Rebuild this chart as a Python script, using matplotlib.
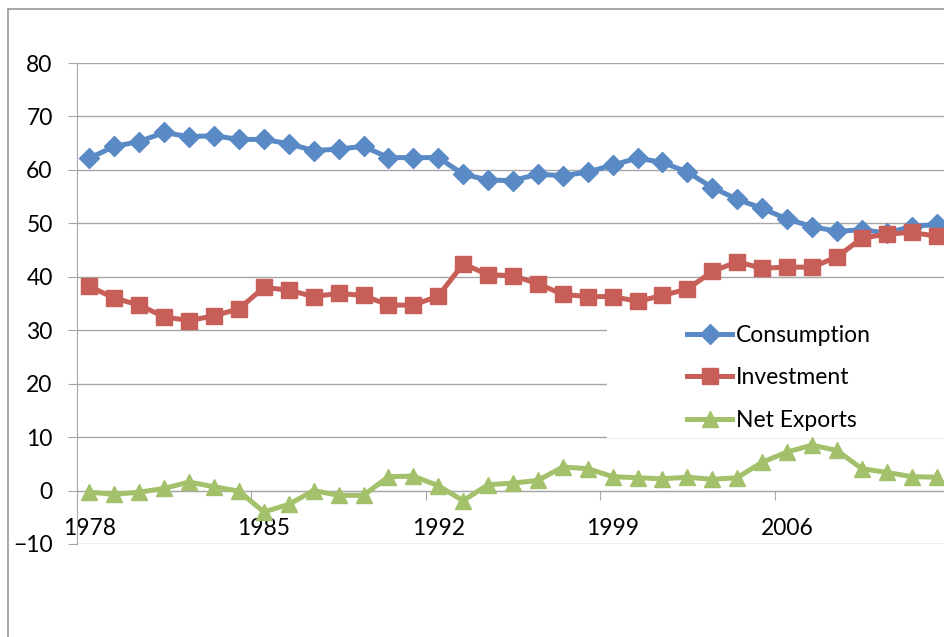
import matplotlib
matplotlib.use("Agg")
import matplotlib.pyplot as plt
from matplotlib.lines import Line2D
from matplotlib.patches import Rectangle

years = list(range(1978, 2013))
consumption = [62.2, 64.4, 65.3, 67.0, 66.2, 66.4, 65.7, 65.7, 64.9, 63.6,
               63.9, 64.4, 62.3, 62.3, 62.3, 59.2, 58.1, 58.0, 59.2, 58.9,
               59.6, 60.9, 62.2, 61.4, 59.6, 56.7, 54.5, 52.8, 50.8, 49.4,
               48.5, 48.8, 48.2, 49.4, 49.8]
investment = [38.2, 36.0, 34.7, 32.5, 31.8, 32.7, 34.0, 38.0, 37.5, 36.3,
              36.9, 36.5, 34.7, 34.7, 36.4, 42.4, 40.4, 40.2, 38.7, 36.7,
              36.3, 36.3, 35.4, 36.5, 37.7, 41.0, 42.8, 41.6, 41.8, 41.8,
              43.7, 47.2, 48.0, 48.3, 47.6]
net_exports = [-0.3, -0.7, -0.3, 0.4, 1.6, 0.7, -0.1, -4.0, -2.6, 0.0,
               -0.9, -0.9, 2.6, 2.7, 0.9, -1.9, 1.1, 1.4, 1.9, 4.4,
               4.1, 2.6, 2.4, 2.2, 2.5, 2.1, 2.4, 5.3, 7.2, 8.5,
               7.5, 4.1, 3.4, 2.6, 2.5]
y_ticks = list(range(-10, 81, 10))
label_every = 7

plt.rcParams["font.family"] = ["Lato", "DejaVu Sans"]
grey = "#a6a6a6"

fig = plt.figure(figsize=(9.45, 6.37), dpi=100)
W, H = 945, 637
ax = fig.add_axes([77 / W, 1 - 544 / H, 872 / W, 481 / H])

x = list(range(len(years)))
ax.plot(x, consumption, color="#5a8ac6", lw=3.6, marker="D", ms=10,
        label="Consumption", zorder=3)
ax.plot(x, investment, color="#c75f58", lw=3.6, marker="s", ms=11,
        label="Investment", zorder=3)
ax.plot(x, net_exports, color="#a3c16a", lw=3.6, marker="^", ms=12,
        label="Net Exports", zorder=3)

ax.set_xlim(-0.5, len(years) - 0.5)
ax.set_ylim(-10, 80)
ax.set_yticks(y_ticks)
ax.grid(axis="y", color=grey, lw=1)
ax.set_axisbelow(True)

for s in ["top", "right"]:
    ax.spines[s].set_visible(False)
ax.spines["left"].set_color(grey)
ax.spines["bottom"].set_color(grey)
ax.spines["bottom"].set_position(("data", 0))

ax.tick_params(axis="y", length=6.5, color=grey, pad=11, labelsize=16.5)
ax.set_xticks([i - 0.5 for i in range(0, len(years) + 1, label_every)])
ax.set_xticklabels([])
ax.set_xticks(list(range(0, len(years), label_every)), minor=True)
ax.set_xticklabels([str(years[i]) for i in range(0, len(years), label_every)],
                   minor=True)
ax.tick_params(axis="x", which="major", length=6.5, color=grey)
ax.tick_params(axis="x", which="minor", length=0, pad=20, labelsize=16.5)

# white legend area hiding the gridlines
ax.add_patch(Rectangle((607 / W, 1 - 438 / H), 340 / W, 138 / H,
                       transform=fig.transFigure, facecolor="white",
                       edgecolor="none", zorder=1, clip_on=False))
ax.legend(loc="center left", bbox_to_anchor=(666 / W, 1 - 378 / H),
          bbox_transform=fig.transFigure, frameon=False, fontsize=16.5,
          handlelength=2.0, handletextpad=0.15, labelspacing=0.95,
          numpoints=1)

# outer chart border
fig.add_artist(Line2D([8 / W, 1], [1 - 9 / H, 1 - 9 / H], color="#999999", lw=1.2))
fig.add_artist(Line2D([8 / W, 8 / W], [0, 1 - 9 / H], color="#999999", lw=1.2))

fig.savefig("out.png", dpi=100)
